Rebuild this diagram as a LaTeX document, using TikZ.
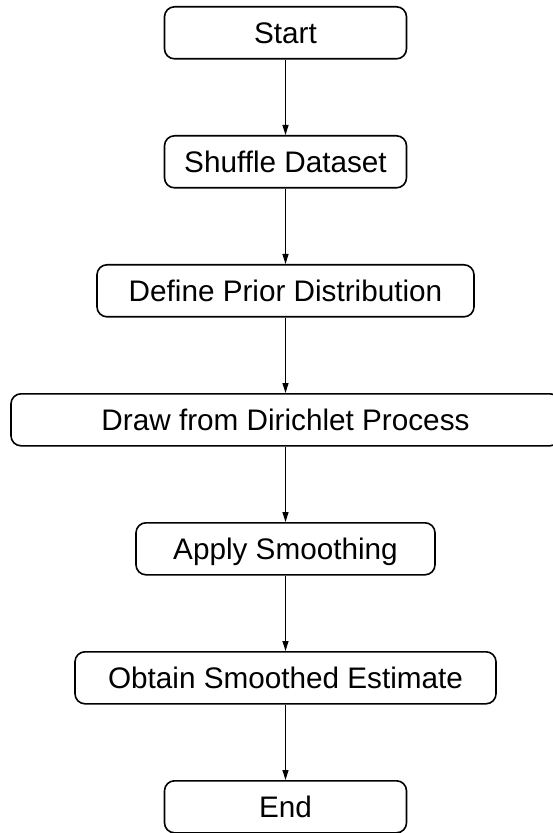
\documentclass[tikz,border=0pt]{standalone}
\usepackage{fontspec}
\setmainfont{Liberation Sans}
\usetikzlibrary{positioning,arrows.meta}

\tikzset{
	stepbox/.style={draw, rounded corners=5pt, line width=0.8pt, minimum height=26pt, inner sep=2pt, text height=10.6pt, text depth=0pt, font=\fontsize{14.85}{18}\selectfont},
	flowarrow/.style={-{Triangle[length=5pt,width=3pt]}, line width=0.65pt}
}

\begin{document}
\begin{tikzpicture}[node distance=37.7pt]
			\useasboundingbox (0,0) rectangle (276pt,-416.5pt);
			\node[stepbox, minimum width=121pt] (start) at (142.75pt,-16.4pt) {Start};
			\node[stepbox, minimum width=121pt, below=of start] (shuffle) {Shuffle Dataset};
			\node[stepbox, minimum width=188.5pt, below=of shuffle] (prior) {Define Prior Distribution};
			\node[stepbox, minimum width=274.5pt, below=of prior] (dirichlet) {Draw from Dirichlet Process};
			\node[stepbox, minimum width=149.5pt, below=of dirichlet] (smooth) {Apply Smoothing};
			\node[stepbox, minimum width=210.5pt, below=of smooth] (estimate) {Obtain Smoothed Estimate};
			\node[stepbox, minimum width=121pt, below=of estimate] (end) {End};

			\draw[flowarrow] (start) -- (shuffle);
			\draw[flowarrow] (shuffle) -- (prior);
			\draw[flowarrow] (prior) -- (dirichlet);
			\draw[flowarrow] (dirichlet) -- (smooth);
			\draw[flowarrow] (smooth) -- (estimate);
			\draw[flowarrow] (estimate) -- (end);
		\end{tikzpicture}
\end{document}
